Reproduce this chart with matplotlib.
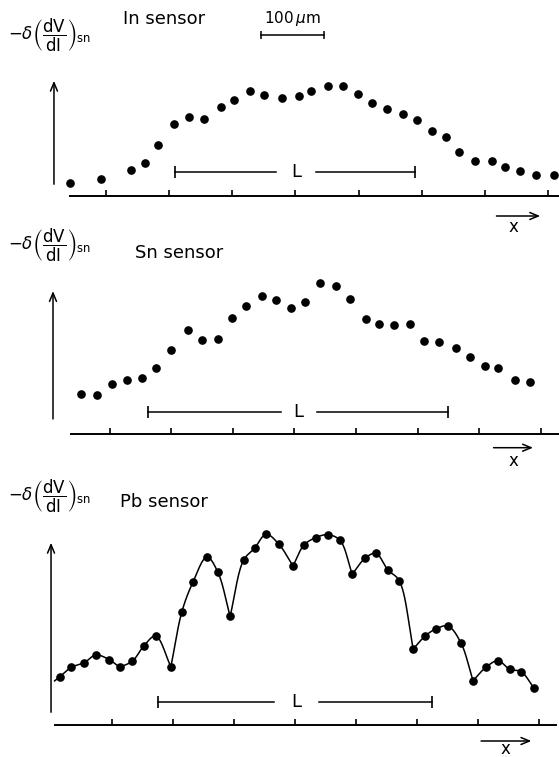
import numpy as np
import matplotlib.pyplot as plt

W, H = 559, 757

# position along the strip (um) and -delta(dV/dI)_sn (arb. units)
in_x = [43, 92, 140, 161, 182, 208, 231, 256, 282, 302, 328, 351, 379, 405, 425, 451,
        475, 499, 522, 545, 570, 593, 617, 639, 659, 685, 712, 732, 756, 781, 809]
in_y = [13.3, 17.3, 25.7, 33.0, 50.7, 71.7, 79.3, 76.7, 88.7, 95.7, 105.3, 100.7, 98.0,
        100.3, 105.3, 109.7, 110.3, 101.7, 93.3, 87.3, 82.3, 76.0, 65.3, 59.3, 44.3,
        35.0, 35.0, 29.0, 25.3, 20.7, 20.7]

sn_x = [54, 79, 103, 128, 152, 176, 200, 227, 250, 276, 298, 321, 347, 370, 395, 418,
        442, 467, 491, 517, 537, 562, 588, 611, 635, 662, 685, 709, 731, 759, 782]
sn_y = [40.3, 39.0, 50.6, 54.6, 56.0, 66.3, 84.6, 104.0, 94.0, 95.6, 116.3, 128.0, 138.6,
        134.6, 126.0, 132.0, 151.0, 148.6, 135.3, 115.3, 110.6, 109.6, 110.6, 93.3, 92.6,
        86.3, 77.0, 68.0, 66.6, 54.3, 52.6]

pb_x = [15, 34, 55, 74, 96, 113, 134, 153, 172, 197, 215, 233, 256, 274, 294, 316, 334,
        353, 374, 397, 415, 434, 454, 474, 494, 515, 533, 552, 571, 594, 614, 632, 651,
        672, 692, 713, 733, 752, 771, 792]
pb_y = [48.3, 57.7, 62.3, 70.0, 65.3, 57.7, 64.0, 79.3, 89.0, 58.3, 113.3, 142.7, 168.0,
        152.7, 108.7, 164.7, 176.7, 190.7, 180.7, 159.0, 180.0, 187.3, 190.3, 184.7, 150.7,
        166.7, 171.7, 155.3, 144.3, 76.0, 89.3, 96.3, 99.0, 82.3, 44.3, 57.7, 64.3, 55.7,
        53.3, 36.7]
pb_cusps = [0, 5, 9, 14, 19, 24, 29, 34, 39]   # the guide curve breaks at these points

tick_um = np.arange(100, 801, 100)

# per panel: name, data, first tick px, px per 100 um, axis row px
panels = [
    dict(name="In sensor", x=in_x, y=in_y, t0=106.0, sp=63.14, axis=196.0,
         axis_x=(43, 818), yarrow=(17.6, 9, 118), L=(210, 590, 23.7), Lgap=(370, 433),
         xarrow=(714, 792, -20), xlab=(746, -31), label_y=35, title=(123, 19)),
    dict(name="Sn sensor", x=sn_x, y=sn_y, t0=109.7, sp=61.57, axis=434.3,
         axis_x=(37.6, 830), yarrow=(7.9, 12.6, 146), L=(162.7, 649.5, 22.6), Lgap=(378, 436),
         xarrow=(719, 792, -13.4), xlab=(755, -27), label_y=245, title=(135, 253)),
    dict(name="Pb sensor", x=pb_x, y=pb_y, t0=111.7, sp=61.04, axis=725.0,
         axis_x=(7.1, 827.4), yarrow=(0.6, 10, 185), L=(176.3, 625.2, 22.7), Lgap=(366, 440),
         xarrow=(700.6, 792, -16), xlab=(744.4, -24), label_y=496, title=(120, 502)),
]


def catmull_rom(xs, ys, xscale, n=30, alpha=0.5):
    # centripetal Catmull-Rom through the points, worked out in pixel-like units
    p = np.column_stack([np.asarray(xs, float) * xscale, ys]).astype(float)
    p = np.vstack([2 * p[0] - p[1], p, 2 * p[-1] - p[-2]])
    out = []
    for i in range(1, len(p) - 2):
        P0, P1, P2, P3 = p[i - 1], p[i], p[i + 1], p[i + 2]
        t0 = 0.0
        t1 = t0 + np.linalg.norm(P1 - P0) ** alpha
        t2 = t1 + np.linalg.norm(P2 - P1) ** alpha
        t3 = t2 + np.linalg.norm(P3 - P2) ** alpha
        t = np.linspace(t1, t2, n)[:, None]
        A1 = (t1 - t) / (t1 - t0) * P0 + (t - t0) / (t1 - t0) * P1
        A2 = (t2 - t) / (t2 - t1) * P1 + (t - t1) / (t2 - t1) * P2
        A3 = (t3 - t) / (t3 - t2) * P2 + (t - t2) / (t3 - t2) * P3
        B1 = (t2 - t) / (t2 - t0) * A1 + (t - t0) / (t2 - t0) * A2
        B2 = (t3 - t) / (t3 - t1) * A2 + (t - t1) / (t3 - t1) * A3
        C = (t2 - t) / (t2 - t1) * B1 + (t - t1) / (t2 - t1) * B2
        out.append(C if i == 1 else C[1:])
    seg = np.vstack(out)
    return seg[:, 0] / xscale, seg[:, 1]


fig = plt.figure(figsize=(W / 100, H / 100), dpi=100)
lab = r"$-\delta\left(\dfrac{\mathrm{dV}}{\mathrm{dI}}\right)_{\mathrm{sn}}$"
arrow = dict(arrowstyle="->,head_length=0.6,head_width=0.25", lw=1.1, color="k")

for p in panels:
    ax = fig.add_axes([0, 0, 1, 1])
    ax.set_axis_off()
    ax.patch.set_visible(False)
    um = lambda px, p=p: 100 + (px - p["t0"]) * 100 / p["sp"]
    ax.set_xlim(um(0), um(W))
    ax.set_ylim(p["axis"] - H, p["axis"])

    # baseline, ticks and arrows
    ax.plot(p["axis_x"], [0, 0], color="k", lw=1.4)
    ax.vlines(tick_um, 0, 6, color="k", lw=1.2)
    xa, y0, y1 = p["yarrow"]
    ax.annotate("", xy=(xa, y1), xytext=(xa, y0), arrowprops=arrow)
    x0, x1, yh = p["xarrow"]
    ax.annotate("", xy=(x1, yh), xytext=(x0, yh), arrowprops=arrow)
    ax.text(*p["xlab"], "x", ha="center", va="center", fontsize=12)

    # L bar
    l0, l1, ly = p["L"]
    g0, g1 = p["Lgap"]
    ax.plot([l0, g0], [ly, ly], color="k", lw=1.1)
    ax.plot([g1, l1], [ly, ly], color="k", lw=1.1)
    ax.plot([l0, l1], [ly, ly], ls="none", marker="|", ms=9, mew=1.2, color="k")
    ax.text((g0 + g1) / 2, ly, "L", ha="center", va="center", fontsize=13)

    # data
    if p["name"].startswith("Pb"):
        for a, b in zip(pb_cusps[:-1], pb_cusps[1:]):
            cx, cy = catmull_rom(p["x"][a:b + 1], p["y"][a:b + 1], p["sp"] / 100)
            ax.plot(cx, cy, color="k", lw=1.1)
        # short overhang of the guide curve at both ends
        ax.plot([pb_x[0], pb_x[0] - 0.45 * (pb_x[1] - pb_x[0])],
                [pb_y[0], pb_y[0] - 0.45 * (pb_y[1] - pb_y[0])], color="k", lw=1.1)
        ax.plot([pb_x[-1], pb_x[-1] + 0.15 * (pb_x[-1] - pb_x[-2])],
                [pb_y[-1], pb_y[-1] + 0.15 * (pb_y[-1] - pb_y[-2])], color="k", lw=1.1)
    ax.plot(p["x"], p["y"], ls="none", marker="o", ms=5.2, color="k")

    # labels
    fig.text(8 / W, 1 - p["label_y"] / H, lab, fontsize=12, ha="left", va="center")
    tx, ty = p["title"]
    fig.text(tx / W, 1 - ty / H, p["name"], fontsize=13, ha="left", va="center")

    if p["name"].startswith("In"):
        ax.plot([345, 445], [161, 161], color="k", lw=1.1)
        ax.plot([345, 445], [161, 161], ls="none", marker="|", ms=6, mew=1.1, color="k")
        ax.text(395, 177, r"100$\,\mu$m", ha="center", va="center", fontsize=11)

fig.savefig("out.png", dpi=100)
